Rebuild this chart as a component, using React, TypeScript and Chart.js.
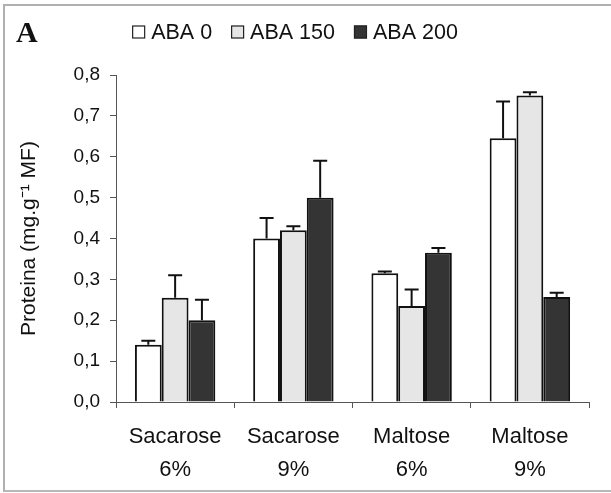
import React, { useEffect, useRef } from "react";
import { Chart, registerables } from "chart.js";

Chart.register(...registerables);

// Protein content by sugar source and ABA concentration
const categories: string[][] = [
  ["Sacarose", "6%"],
  ["Sacarose", "9%"],
  ["Maltose", "6%"],
  ["Maltose", "9%"],
];
const seriesNames = ["ABA 0", "ABA 150", "ABA 200"];
const aba0 = [0.14, 0.4, 0.315, 0.645];
const aba150 = [0.255, 0.42, 0.235, 0.75];
const aba200 = [0.2, 0.5, 0.365, 0.257];
// upper error bar lengths (standard error)
const aba0Err = [0.01, 0.05, 0.004, 0.09];
const aba150Err = [0.055, 0.01, 0.04, 0.008];
const aba200Err = [0.05, 0.09, 0.012, 0.01];
const yTicks = [0, 0.1, 0.2, 0.3, 0.4, 0.5, 0.6, 0.7, 0.8];
const panelLetter = "A";
const yTitle = "Proteina (mg.g\u207B\u00B9 MF)";

const SANS = "'Liberation Sans', Arial, Helvetica, sans-serif";
const fills = ["#ffffff", "#e6e6e6", "#343434"];

const errorBars = {
  id: "errorBars",
  afterDatasetsDraw(chart: any) {
    const ctx = chart.ctx;
    const y = chart.scales.y;
    ctx.save();
    ctx.strokeStyle = "#111";
    ctx.lineWidth = 2;
    chart.data.datasets.forEach((ds: any, i: number) => {
      const meta = chart.getDatasetMeta(i);
      meta.data.forEach((bar: any, j: number) => {
        const v = ds.data[j];
        const e = ds.errors[j];
        const top = y.getPixelForValue(v + e);
        ctx.beginPath();
        ctx.moveTo(bar.x, bar.y);
        ctx.lineTo(bar.x, top);
        ctx.moveTo(bar.x - 7, top);
        ctx.lineTo(bar.x + 7, top);
        ctx.stroke();
      });
    });
    ctx.restore();
  },
};

const legendAndLetter = {
  id: "legendAndLetter",
  afterDraw(chart: any) {
    const ctx = chart.ctx;
    ctx.save();
    // panel letter
    ctx.font = "bold 30px 'Liberation Serif', 'Times New Roman', serif";
    ctx.fillStyle = "#111";
    ctx.textBaseline = "middle";
    ctx.textAlign = "left";
    ctx.fillText(panelLetter, 16, 34);
    // legend
    ctx.font = `21.5px ${SANS}`;
    const box = 13;
    const gapBox = 6;
    const gapItem = 19;
    const widths = seriesNames.map((n) => box + gapBox + ctx.measureText(n).width);
    const total = widths.reduce((a, b) => a + b, 0) + gapItem * (widths.length - 1);
    let x = 295 - total / 2;
    const cy = 32;
    seriesNames.forEach((n, i) => {
      ctx.fillStyle = fills[i];
      ctx.fillRect(x, cy - box / 2, box, box);
      ctx.strokeStyle = "#222";
      ctx.lineWidth = 1.2;
      ctx.strokeRect(x + 0.5, cy - box / 2 + 0.5, box - 1, box - 1);
      ctx.fillStyle = "#111";
      ctx.fillText(n, x + box + gapBox, cy + 1);
      x += widths[i] + gapItem;
    });
    ctx.restore();
  },
};

export default function App() {
  const ref = useRef<HTMLCanvasElement | null>(null);

  useEffect(() => {
    if (!ref.current) return;
    const mk = (label: string, data: number[], errors: number[], i: number) => ({
      label,
      data,
      errors,
      backgroundColor: fills[i],
      borderColor: "#111",
      borderWidth: 2,
      categoryPercentage: 0.68,
      barPercentage: 1,
    });
    const chart = new Chart(ref.current, {
      type: "bar",
      data: {
        labels: categories,
        datasets: [
          mk(seriesNames[0], aba0, aba0Err, 0),
          mk(seriesNames[1], aba150, aba150Err, 1),
          mk(seriesNames[2], aba200, aba200Err, 2),
        ] as any,
      },
      options: {
        animation: false,
        responsive: false,
        devicePixelRatio: 1,
        layout: { padding: { left: 0, right: 22, top: 75, bottom: 0 } },
        plugins: {
          legend: { display: false },
          tooltip: { enabled: false },
        },
        scales: {
          x: {
            offset: true,
            grid: {
              offset: true,
              drawOnChartArea: false,
              tickLength: 6,
              color: "#555",
            },
            border: { color: "#555", width: 1 },
            ticks: {
              color: "#111",
              padding: 12,
              font: { family: SANS, size: 22, lineHeight: 1.5 },
              maxRotation: 0,
            },
            afterFit(scale: any) {
              scale.height = 91;
            },
          },
          y: {
            min: 0,
            max: 0.8,
            afterBuildTicks(scale: any) {
              scale.ticks = yTicks.map((v) => ({ value: v }));
            },
            grid: {
              drawOnChartArea: false,
              tickLength: 6,
              color: "#555",
            },
            border: { color: "#555", width: 1 },
            ticks: {
              color: "#111",
              padding: 10,
              font: { family: SANS, size: 19 },
              callback: (v: any) => Number(v).toFixed(1).replace(".", ","),
            },
            title: {
              display: true,
              text: yTitle,
              color: "#111",
              font: { family: SANS, size: 21 },
              padding: { top: 17, bottom: 0 },
            },
            afterFit(scale: any) {
              scale.width = 116;
            },
          },
        },
      },
      plugins: [errorBars, legendAndLetter],
    });
    return () => chart.destroy();
  }, []);

  return (
    <div
      style={{
        position: "absolute",
        left: 0,
        top: 0,
        width: 611,
        height: 493,
        background: "#fff",
        overflow: "hidden",
      }}
    >
      <div
        style={{
          position: "absolute",
          left: 3,
          top: 4,
          width: 620,
          height: 484,
          borderTop: "2px solid #b0b0b0",
          borderLeft: "2px solid #b0b0b0",
          borderBottom: "2px solid #b8b8b8",
        }}
      />
      <canvas
        ref={ref}
        width={611}
        height={493}
        style={{ position: "absolute", left: 0, top: 0 }}
      />
    </div>
  );
}
